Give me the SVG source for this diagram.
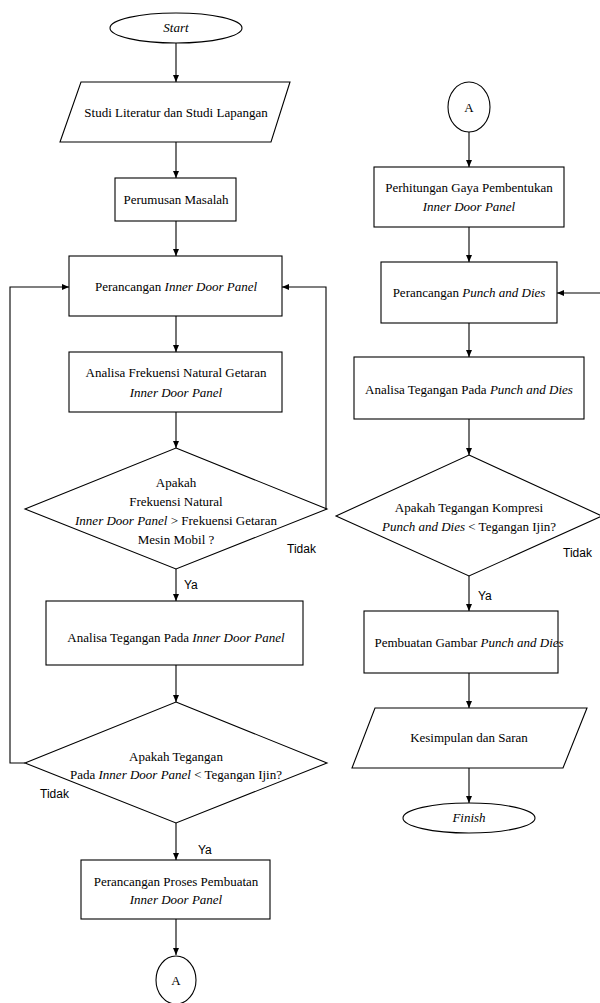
<svg xmlns="http://www.w3.org/2000/svg" width="600" height="1003" viewBox="0 0 600 1003">
<style>
.s{fill:#fff;stroke:#000;stroke-width:1.1}
.t{font-family:"Liberation Serif","Times New Roman",serif;font-size:13px;fill:#000;text-anchor:middle}
.i{font-style:italic}
.l{font-family:"Liberation Sans",Arial,sans-serif;font-size:12px;fill:#000}
.c{fill:none;stroke:#000;stroke-width:1.1}
</style>
<defs>
<marker id="ah" markerWidth="8" markerHeight="8" refX="7" refY="4" orient="auto" markerUnits="userSpaceOnUse">
<path d="M0,1 L7,4 L0,7 Z" fill="#000"/>
</marker>
</defs>
<rect width="600" height="1003" fill="#fff"/>
<g id="connectors">
<path class="c" marker-end="url(#ah)" d="M176,42 V82"/>
<path class="c" marker-end="url(#ah)" d="M176,142 V178"/>
<path class="c" marker-end="url(#ah)" d="M176,221 V256"/>
<path class="c" marker-end="url(#ah)" d="M176,316 V352"/>
<path class="c" marker-end="url(#ah)" d="M176,412 V448"/>
<path class="c" marker-end="url(#ah)" d="M176,569 V601"/>
<path class="c" marker-end="url(#ah)" d="M176,665 V702"/>
<path class="c" marker-end="url(#ah)" d="M176,823 V860"/>
<path class="c" marker-end="url(#ah)" d="M176,919 V955"/>
<path class="c" marker-end="url(#ah)" d="M327,509 H326 V287 H282"/>
<path class="c" marker-end="url(#ah)" d="M25,763 H10 V287 H69"/>
<path class="c" marker-end="url(#ah)" d="M469,132 V167"/>
<path class="c" marker-end="url(#ah)" d="M469,227 V262"/>
<path class="c" marker-end="url(#ah)" d="M469,323 V357"/>
<path class="c" marker-end="url(#ah)" d="M469,419 V455"/>
<path class="c" marker-end="url(#ah)" d="M469,576 V611"/>
<path class="c" marker-end="url(#ah)" d="M469,673 V708"/>
<path class="c" marker-end="url(#ah)" d="M469,768 V803"/>
<path class="c" marker-end="url(#ah)" d="M602,516 V293 H557"/>
<text class="l" x="287" y="553">Tidak</text>
<text class="l" x="184" y="589">Ya</text>
<text class="l" x="40" y="798">Tidak</text>
<text class="l" x="198" y="854">Ya</text>
<text class="l" x="563" y="557">Tidak</text>
<text class="l" x="478" y="600">Ya</text>
</g>
<g id="start">
<ellipse class="s" cx="176" cy="28" rx="66" ry="15"/>
<text class="t i" x="176" y="32">Start</text>
</g>
<g id="studi">
<polygon class="s" points="81,82 290,82 271,142 60,142"/>
<text class="t" x="176" y="117">Studi Literatur dan Studi Lapangan</text>
</g>
<g id="perumusan">
<rect class="s" x="115" y="178" width="121" height="43"/>
<text class="t" x="176" y="204">Perumusan Masalah</text>
</g>
<g id="perancangan-idp">
<rect class="s" x="69" y="256" width="213" height="60"/>
<text class="t" x="176" y="291">Perancangan <tspan class="i">Inner Door Panel</tspan></text>
</g>
<g id="analisa-frekuensi">
<rect class="s" x="69" y="352" width="213" height="60"/>
<text class="t" x="176" y="377">Analisa Frekuensi Natural Getaran</text>
<text class="t i" x="176" y="397">Inner Door Panel</text>
</g>
<g id="cek-frekuensi">
<polygon class="s" points="176,448 327,509 176,569 25,509"/>
<text class="t" x="176" y="487">Apakah</text>
<text class="t" x="176" y="506">Frekuensi Natural</text>
<text class="t" x="176" y="525"><tspan class="i">Inner Door Panel</tspan> &gt; Frekuensi Getaran</text>
<text class="t" x="176" y="544">Mesin Mobil ?</text>
</g>
<g id="analisa-tegangan-idp">
<rect class="s" x="46" y="601" width="257" height="64"/>
<text class="t" x="176" y="642">Analisa Tegangan Pada <tspan class="i">Inner Door Panel</tspan></text>
</g>
<g id="cek-tegangan-idp">
<polygon class="s" points="176,702 327,763 176,823 25,763"/>
<text class="t" x="176" y="761">Apakah Tegangan</text>
<text class="t" x="176" y="779">Pada <tspan class="i">Inner Door Panel</tspan> &lt; Tegangan Ijin?</text>
</g>
<g id="proses-pembuatan">
<rect class="s" x="81" y="860" width="189" height="59"/>
<text class="t" x="176" y="886">Perancangan Proses Pembuatan</text>
<text class="t i" x="176" y="904">Inner Door Panel</text>
</g>
<g id="connector-a-out">
<ellipse class="s" cx="176" cy="980" rx="20" ry="24"/>
<text class="t" x="176" y="985">A</text>
</g>
<g id="connector-a-in">
<ellipse class="s" cx="469" cy="107" rx="21" ry="25"/>
<text class="t" x="469" y="112">A</text>
</g>
<g id="perhitungan-gaya">
<rect class="s" x="374" y="167" width="190" height="60"/>
<text class="t" x="469" y="192">Perhitungan Gaya Pembentukan</text>
<text class="t i" x="469" y="211">Inner Door Panel</text>
</g>
<g id="perancangan-pd">
<rect class="s" x="381" y="262" width="176" height="61"/>
<text class="t" x="469" y="297">Perancangan <tspan class="i">Punch and Dies</tspan></text>
</g>
<g id="analisa-tegangan-pd">
<rect class="s" x="354" y="357" width="230" height="62"/>
<text class="t" x="469" y="394">Analisa Tegangan Pada <tspan class="i">Punch and Dies</tspan></text>
</g>
<g id="cek-tegangan-pd">
<polygon class="s" points="469,455 602,516 469,576 336,516"/>
<text class="t" x="469" y="512">Apakah Tegangan Kompresi</text>
<text class="t" x="469" y="531"><tspan class="i">Punch and Dies</tspan> &lt; Tegangan Ijin?</text>
</g>
<g id="pembuatan-gambar">
<rect class="s" x="364" y="611" width="194" height="62"/>
<text class="t" x="469" y="647">Pembuatan Gambar <tspan class="i">Punch and Dies</tspan></text>
</g>
<g id="kesimpulan">
<polygon class="s" points="375,708 587,708 563,768 352,768"/>
<text class="t" x="469" y="742">Kesimpulan dan Saran</text>
</g>
<g id="finish">
<ellipse class="s" cx="469" cy="818" rx="66" ry="15"/>
<text class="t i" x="469" y="822">Finish</text>
</g>
</svg>
